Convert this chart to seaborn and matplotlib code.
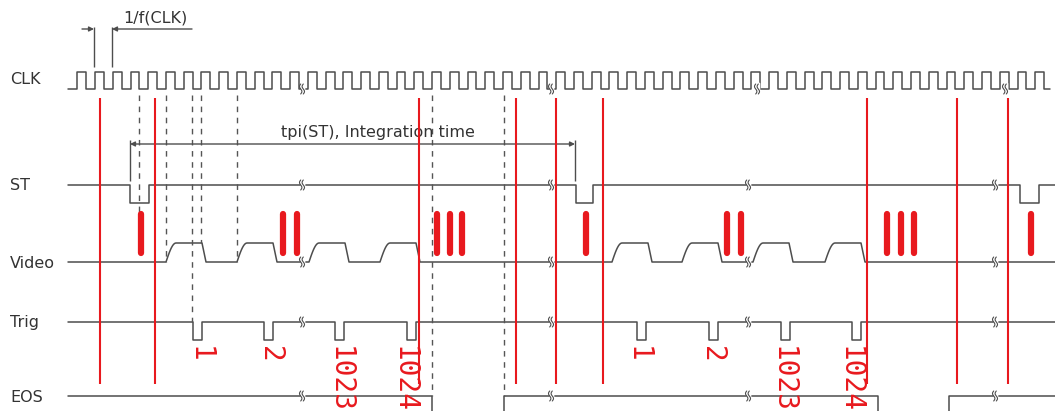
import numpy as np
import matplotlib
matplotlib.use("Agg")
import matplotlib.pyplot as plt
import seaborn as sns

# ---- signal description (horizontal positions in canvas units) ----
row_names = ["CLK", "ST", "Video", "Trig", "EOS"]
row_label_y = [80, 185, 263, 322, 397]

clk_high_y, clk_low_y = 72, 89
clk_start, clk_first_rise, clk_period, clk_end = 68, 77.3, 17.74, 1050
clk_breaks = [302, 551, 757, 1005]

st_high_y, st_low_y = 185, 203
st_pulse_start = [130, 576, 1020]
st_pulse_end = [149, 593, 1039]

video_low_y, video_high_y = 262, 243
video_rise_start = [166, 237, 309, 380, 612, 682, 753, 825]

trig_high_y, trig_low_y = 322, 340
trig_pulse_start = [193, 264, 335, 407, 637, 709, 781, 852]
trig_labels = ["1", "2", "1023", "1024", "1", "2", "1023", "1024"]
trig_label_x = [200, 270, 340, 404, 638, 712, 783, 850]

eos_high_y, eos_low_y = 396, 440
eos_fall = [432, 878]
eos_rise = [504, 949]

row_breaks = [302, 551, 748, 995]

marker_x = [100, 155, 419, 516, 556, 603, 867, 957, 1008]
burst_x = [141, 283, 297, 437, 450, 462, 586, 727, 741, 887, 901, 914, 1031]

guide_x = [139, 166, 192, 201, 237, 432, 504]
guide_bottom = [212, 262, 322, 243, 262, 396, 396]

period_marks = [94, 112]
integration_span = [130, 575]

LINE = "#4d4d4d"
TEXT = "#333333"
RED = "#e8191e"
W, H = 1055, 411

sns.set_theme(style="white")
plt.rcParams["font.family"] = ["DejaVu Sans"]

fig = plt.figure(figsize=(W / 100, H / 100), dpi=100)
ax = fig.add_axes([0, 0, 1, 1])
ax.set_xlim(0, W)
ax.set_ylim(H, 0)
ax.axis("off")


def trace(xs, ys, **kw):
    sns.lineplot(x=np.asarray(xs, float), y=np.asarray(ys, float), ax=ax,
                 sort=False, estimator=None, color=LINE, lw=1.1, **kw)


def square_wave(start, end, idle, active, intervals):
    xs, ys = [start], [idle]
    for a, b in intervals:
        xs += [a, a, b, b]
        ys += [idle, active, active, idle]
    xs.append(end)
    ys.append(idle)
    return xs, ys


# CLK
rises = np.arange(clk_first_rise, clk_end, clk_period)
clk_iv = [(r, min(r + clk_period / 2, clk_end)) for r in rises]
trace(*square_wave(clk_start, clk_end, clk_low_y, clk_high_y, clk_iv))

# ST (active low)
trace(*square_wave(68, W, st_high_y, st_low_y, zip(st_pulse_start, st_pulse_end)))

# Video: rounded charge-up, flat top, quick discharge
vx, vy = [68], [video_low_y]
for s in video_rise_start:
    t = np.linspace(0, 1, 12)
    vx += list(s + 10 * t)
    vy += list(video_low_y + (video_high_y - video_low_y) * np.sin(np.pi / 2 * t))
    vx += [s + 36, s + 40]
    vy += [video_high_y, video_low_y]
vx.append(W)
vy.append(video_low_y)
trace(vx, vy)

# Trig (active low)
trace(*square_wave(68, W, trig_high_y, trig_low_y, [(s, s + 9) for s in trig_pulse_start]))

# EOS
ex, ey = [68], [eos_high_y]
for f, r in zip(eos_fall, eos_rise):
    ex += [f, f, r, r]
    ey += [eos_high_y, eos_low_y, eos_low_y, eos_high_y]
ex.append(W)
ey.append(eos_high_y)
trace(ex, ey)


# break marks on each trace
def break_mark(x, y):
    t = np.linspace(-1, 1, 20)
    for dx in (-1.3, 1.3):
        ax.fill_betweenx([y - 6, y + 6], x - 1.5, x + 1.5, color="white", zorder=3)
    for dx in (-1.3, 1.3):
        ax.plot(x + dx + 1.2 * np.sin(np.pi * t), y + 5 * t, color=LINE, lw=0.8, zorder=4)


for bx in clk_breaks:
    break_mark(bx, clk_low_y)
for y in [st_high_y, video_low_y, trig_high_y, eos_high_y]:
    for bx in row_breaks:
        break_mark(bx, y)

# dashed timing guides
for gx, gb in zip(guide_x, guide_bottom):
    ax.plot([gx, gx], [95, gb], color="#555555", lw=1.0, ls=(0, (4, 4)), zorder=2)

# red markers
ax.vlines(marker_x, 98, 384, color=RED, lw=1.5, zorder=5)
ax.vlines(burst_x, 214, 253, color=RED, lw=4.5, capstyle="round", zorder=5)

# row names
for name, y in zip(row_names, row_label_y):
    ax.text(10, y, name, fontsize=11.5, color=TEXT, ha="left", va="center")

# trig pixel numbers
for x, lab in zip(trig_label_x, trig_labels):
    ax.text(x, 346, lab, fontsize=20, color=RED, rotation=270, ha="center", va="top",
            family="DejaVu Sans Mono", zorder=6)

# 1/f(CLK) dimension
ax.vlines(period_marks, 27, 67, color=LINE, lw=1.0)
ax.annotate("", xy=(period_marks[0], 29), xytext=(82, 29),
            arrowprops=dict(arrowstyle="-|>", color=LINE, lw=1.0, mutation_scale=7,
                            shrinkA=0, shrinkB=0))
ax.annotate("", xy=(period_marks[1], 29), xytext=(192, 29),
            arrowprops=dict(arrowstyle="-|>", color=LINE, lw=1.0, mutation_scale=7,
                            shrinkA=0, shrinkB=0))
ax.text(155, 18, "1/f(CLK)", fontsize=11.5, color=TEXT, ha="center", va="center")

# integration time dimension
ax.vlines(integration_span, 140, 181, color=LINE, lw=1.0)
ax.annotate("", xy=(integration_span[0], 144), xytext=(integration_span[1], 144),
            arrowprops=dict(arrowstyle="<|-|>", color=LINE, lw=1.0, mutation_scale=7,
                            shrinkA=0, shrinkB=0))
ax.text(378, 132, "tpi(ST), Integration time", fontsize=11.5, color=TEXT,
        ha="center", va="center")

fig.savefig("out.png", dpi=100, facecolor="white")
